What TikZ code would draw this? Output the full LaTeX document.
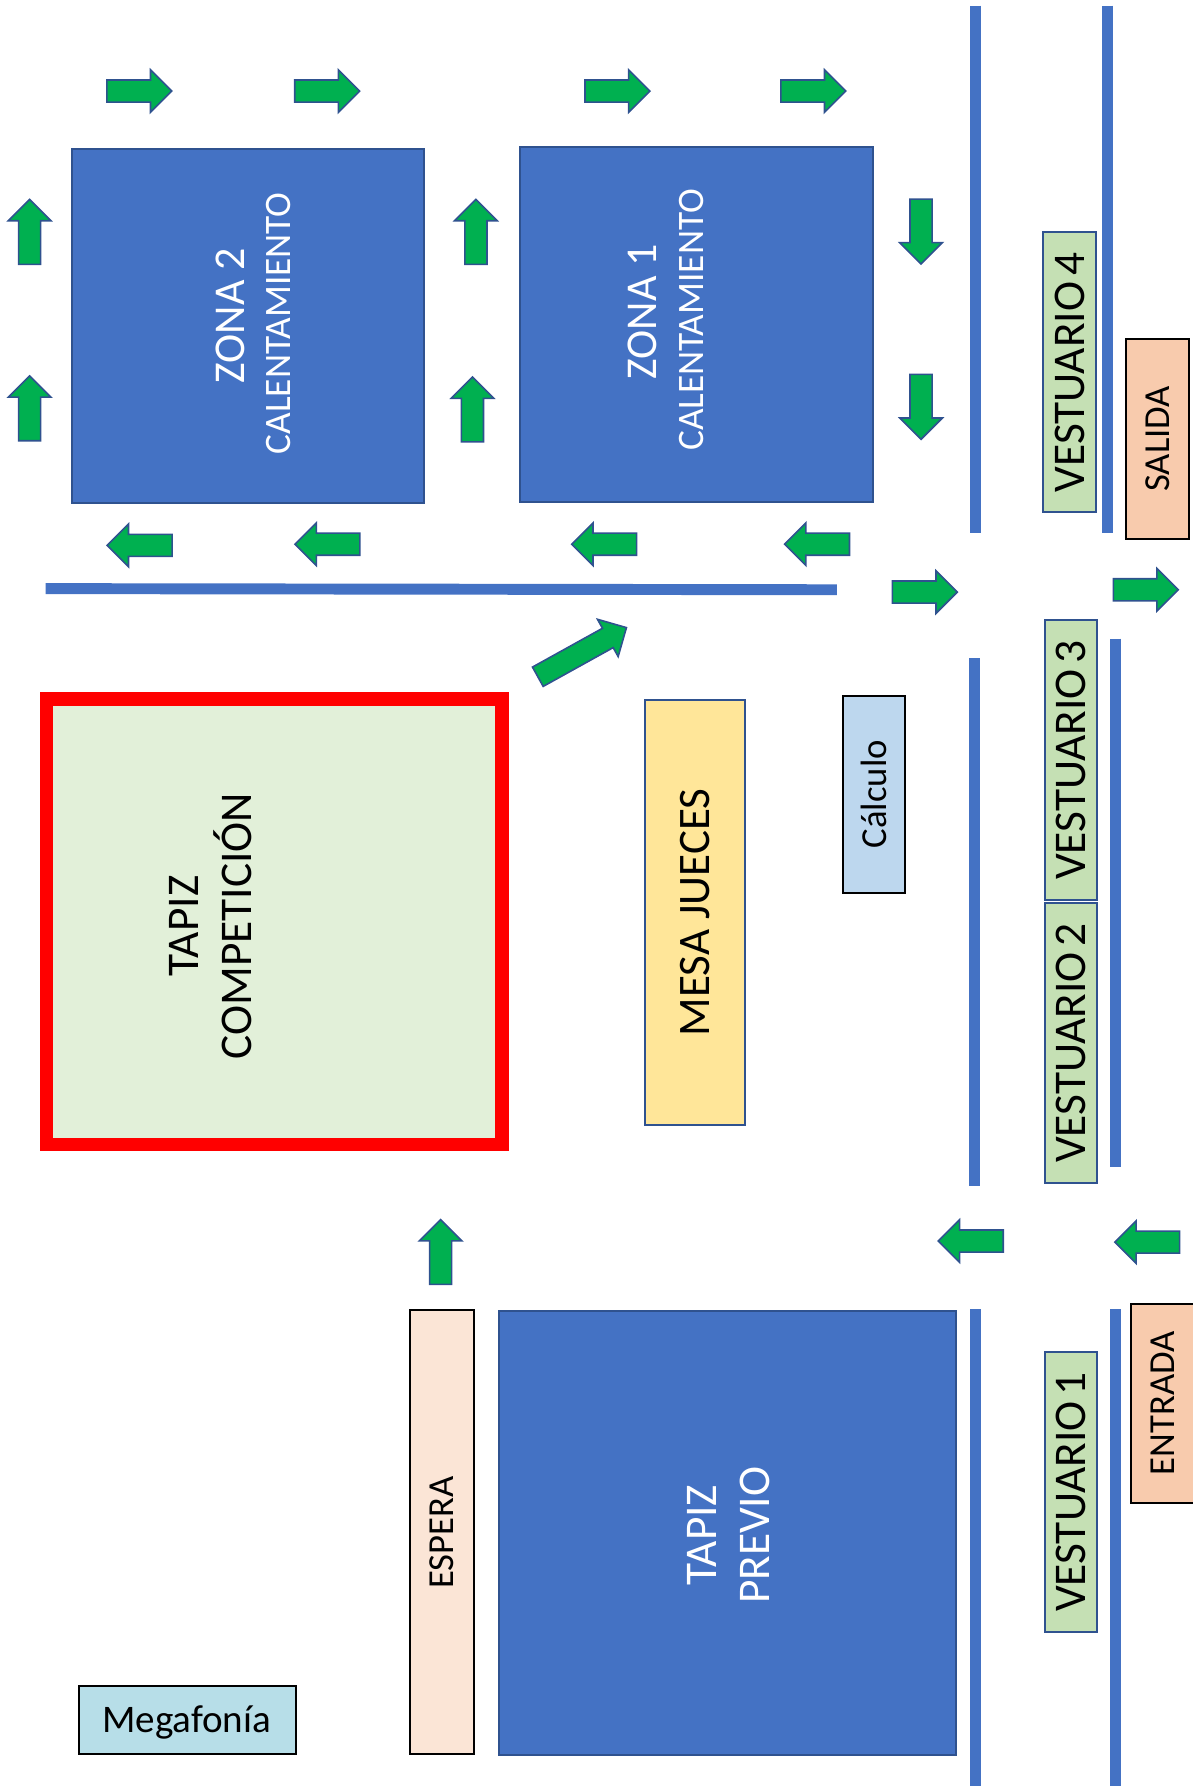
\documentclass[tikz,border=0pt]{standalone}
\usepackage{fontspec}
\setmainfont{Carlito}
\usetikzlibrary{shapes.arrows}
\definecolor{azul}{HTML}{4472C4}
\definecolor{borde}{HTML}{2F528F}
\definecolor{flecha}{HTML}{00B050}
\definecolor{tapiz}{HTML}{E2F0D9}
\definecolor{mesa}{HTML}{FFE699}
\definecolor{calculo}{HTML}{BDD7EE}
\definecolor{vestuario}{HTML}{C5E0B4}
\definecolor{puerta}{HTML}{F8CBAD}
\definecolor{espera}{HTML}{FBE5D6}
\definecolor{megafonia}{HTML}{B7DEE8}
\newcommand\upx{0.8539pt}
\newcommand\drawFlecha[3]{%
\node[Flecha, rotate=#3, xshift=-4.5*\upx] (#1) at (#2) {};
}
\newcommand\drawVestuario[3]{%
\node[Caja, fill=vestuario, minimum width=246*\upx, minimum height=46*\upx, font=\fontsize{34}{37}\selectfont] (#1) at (#2) {VESTUARIO\hspace{0.14em}#3};
}
\begin{document}
\begin{tikzpicture}[x=\upx, y=-\upx,
			Caja/.style={draw=borde, line width=1.5pt, inner sep=0pt, align=center, rotate=90},
			Negra/.style={Caja, draw=black},
			Rotulo/.style={inner sep=0pt, align=center, rotate=90},
			Flecha/.style={single arrow, draw=borde, line width=1.2pt, fill=flecha, inner xsep=0pt, inner ysep=9*\upx,
			minimum width=36*\upx, minimum height=57*\upx, single arrow head extend=9*\upx},
			Muro/.style={draw=azul, line width=9.6*\upx}]

			\useasboundingbox (0,0) rectangle (1047,1568.7);

			% drawing walls
			\draw[Muro] (40,517) -- (735,518);
			\draw[Muro] (857,5) -- (857,468);
			\draw[Muro] (973,5) -- (973,468);
			\draw[Muro] (856,578) -- (856,1042);
			\draw[Muro] (980,561) -- (980,1025);
			\draw[Muro] (857,1150) -- (857,1568.7);
			\draw[Muro] (980,1150) -- (980,1568.7);

			% drawing warm-up zones
			\node[Caja, fill=azul, minimum width=311*\upx, minimum height=309*\upx] (zona2) at (218,286) {};
			\node[Rotulo, text=white, font=\fontsize{33}{37}\selectfont] (zona2txt) at (202,277.5) {ZONA 2};
			\node[Rotulo, text=white, font=\fontsize{28}{37}\selectfont] (cal2txt) at (245,284) {CALENTAMIENTO};
			\node[Caja, fill=azul, minimum width=311*\upx, minimum height=310*\upx] (zona1) at (611.5,285) {};
			\node[Rotulo, text=white, font=\fontsize{33}{37}\selectfont] (zona1txt) at (564,274) {ZONA 1};
			\node[Rotulo, text=white, font=\fontsize{28}{37}\selectfont] (cal1txt) at (607,281) {CALENTAMIENTO};

			% drawing mats
			\node[Caja, draw=red, line width=10pt, fill=tapiz, minimum width=391*\upx, minimum height=400*\upx] (competicion) at (241,809.5) {};
			\node[Rotulo, font=\fontsize{34}{40}\selectfont] (competiciontxt) at (185,813.5) {TAPIZ\\COMPETICIÓN};
			\node[Caja, fill=azul, minimum width=390*\upx, minimum height=401*\upx] (previo) at (639,1346.5) {};
			\node[Rotulo, text=white, font=\fontsize{34}{40}\selectfont] (previotxt) at (640,1348.5) {TAPIZ\\PREVIO};

			% drawing tables
			\node[Caja, fill=mesa, minimum width=374*\upx, minimum height=88*\upx, font=\fontsize{33.8}{37}\selectfont] (mesa) at (610.5,801.5) {MESA JUECES};
			\node[Negra, fill=calculo, minimum width=173*\upx, minimum height=55*\upx, font=\fontsize{27.5}{32}\selectfont] (calculo) at (767.5,697.5) {Cálculo};
			\node[Negra, fill=espera, minimum width=390*\upx, minimum height=56*\upx, font=\fontsize{27.5}{32}\selectfont] (espera) at (388,1346) {ESPERA};
			\node[Negra, rotate=-90, fill=megafonia, minimum width=191*\upx, minimum height=60*\upx] (megafonia) at (164.5,1511) {};
			\node[Rotulo, rotate=-90, font=\fontsize{29.3}{34}\selectfont] (megafoniatxt) at (164,1513) {Megafonía};

			% drawing changing rooms
			\drawVestuario{vest4}{939.5,327}{4}
			\drawVestuario{vest3}{940.5,667.5}{3}
			\drawVestuario{vest2}{940.5,916}{2}
			\drawVestuario{vest1}{940.5,1310.5}{1}

			% drawing doors
			\node[Negra, fill=puerta, minimum width=175*\upx, minimum height=55*\upx, font=\fontsize{27.5}{32}\selectfont] (salida) at (1016.5,385.5) {SALIDA};
			\node[Negra, fill=puerta, minimum width=175*\upx, minimum height=57*\upx, font=\fontsize{27.5}{32}\selectfont] (entrada) at (1021.5,1232.5) {ENTRADA};

			% drawing arrows
			\drawFlecha{f1}{122,80}{0} \drawFlecha{f2}{287,80}{0}
			\drawFlecha{f3}{542,80}{0} \drawFlecha{f4}{714,80}{0}
			\drawFlecha{f5}{812,520}{0} \drawFlecha{f6}{1006,518}{0}

			\drawFlecha{f7}{26,204}{90} \drawFlecha{f8}{26,359}{90}
			\drawFlecha{f9}{418,204}{90} \drawFlecha{f10}{415,360}{90}
			\drawFlecha{f11}{387,1100}{90}

			\drawFlecha{f12}{809,203}{-90} \drawFlecha{f13}{809,357}{-90}

			\drawFlecha{f14}{123,479}{180} \drawFlecha{f15}{288,478}{180}
			\drawFlecha{f16}{531,478}{180} \drawFlecha{f17}{718,478}{180}
			\drawFlecha{f18}{853,1090}{180} \drawFlecha{f19}{1008,1091}{180}

			\node[Flecha, rotate=29, xshift=-4.5*\upx, minimum height=89*\upx] (f20) at (511,573) {};

		\end{tikzpicture}
\end{document}
